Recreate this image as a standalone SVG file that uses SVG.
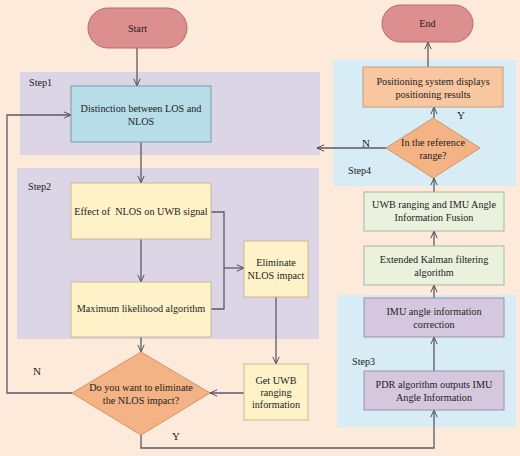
<svg xmlns="http://www.w3.org/2000/svg" width="520" height="456" viewBox="0 0 520 456">
<defs>
<marker id="arr" viewBox="0 0 10 10" refX="10" refY="5" markerWidth="8" markerHeight="8" orient="auto" markerUnits="userSpaceOnUse">
<path d="M1,1 L10,5 L1,9" fill="none" stroke="#4a4a5a" stroke-width="1.2"/>
</marker>
<style>
text{font-family:"Liberation Serif","Times New Roman",serif;font-size:10.2px;fill:#222;text-anchor:middle}
.lbl{text-anchor:start}
.panelP{fill:#dcd5e6}
.panelB{fill:#d7ecf4}
.term{fill:#dd8f8f;stroke:#b66a6a;stroke-width:1}
.blue{fill:#b6dde8;stroke:#8aa6b2;stroke-width:1.2}
.yel{fill:#fff2c9;stroke:#c9b992;stroke-width:1}
.dia{fill:#f4b384;stroke:#d39367;stroke-width:1}
.org{fill:#f8c7a0;stroke:#c79c80;stroke-width:1}
.grn{fill:#eaf1dd;stroke:#a9b69e;stroke-width:1}
.pur{fill:#d5c8de;stroke:#9c8fae;stroke-width:1}
.c{fill:none;stroke:#5a5a68;stroke-width:1.3}
</style>
</defs>
<rect width="520" height="456" fill="#fdeadb"/>
<g id="panels">
<rect class="panelP" x="20" y="72" width="300" height="83"/>
<rect class="panelP" x="17" y="168" width="302" height="171"/>
<rect class="panelB" x="333" y="60" width="183" height="126"/>
<rect class="panelB" x="337" y="295" width="179" height="132"/>
<text class="lbl" x="29" y="86">Step1</text>
<text class="lbl" x="28" y="190">Step2</text>
<text class="lbl" x="348" y="174">Step4</text>
<text class="lbl" x="352" y="365">Step3</text>
</g>
<g id="connectors">
<path class="c" d="M137,48 V86" marker-end="url(#arr)"/>
<path class="c" d="M141,142 V183" marker-end="url(#arr)"/>
<path class="c" d="M141,239 V282" marker-end="url(#arr)"/>
<path class="c" d="M211,212 H224 V309 H211"/>
<path class="c" d="M224,268 H244" marker-end="url(#arr)"/>
<path class="c" d="M276,297 V364" marker-end="url(#arr)"/>
<path class="c" d="M244,393 H210" marker-end="url(#arr)"/>
<path class="c" d="M141,337 V352" marker-end="url(#arr)"/>
<path class="c" d="M72,393 H7 V115 H71" marker-end="url(#arr)"/>
<path class="c" d="M141,435 V448 H434 V410" marker-end="url(#arr)"/>
<path class="c" d="M434,371 V337" marker-end="url(#arr)"/>
<path class="c" d="M434,298 V285" marker-end="url(#arr)"/>
<path class="c" d="M434,246 V231" marker-end="url(#arr)"/>
<path class="c" d="M434,192 V178" marker-end="url(#arr)"/>
<path class="c" d="M434,118 V107" marker-end="url(#arr)"/>
<path class="c" d="M428,67 V42" marker-end="url(#arr)"/>
<path class="c" d="M386,148 H317" marker-end="url(#arr)"/>
<text x="37" y="375" style="font-size:11px">N</text>
<text x="176" y="440" style="font-size:11px">Y</text>
<text x="366" y="147" style="font-size:11px">N</text>
<text x="461" y="119" style="font-size:11px">Y</text>
</g>
<g id="start">
<rect class="term" x="88" y="8" width="99" height="40" rx="20"/>
<text x="137.5" y="32">Start</text>
</g>
<g id="end">
<rect class="term" x="382" y="5" width="91" height="37" rx="18.5"/>
<text x="427.5" y="27">End</text>
</g>
<g id="distinction">
<rect class="blue" x="71" y="86" width="140" height="56"/>
<text x="141" y="112">Distinction between LOS and</text>
<text x="141" y="125">NLOS</text>
</g>
<g id="effect">
<rect class="yel" x="71" y="183" width="140" height="56"/>
<text x="141" y="215" style="white-space:pre">Effect of  NLOS on UWB signal</text>
</g>
<g id="maxlike">
<rect class="yel" x="71" y="282" width="140" height="55"/>
<text x="141" y="312">Maximum likelihood algorithm</text>
</g>
<g id="eliminate">
<rect class="yel" x="244" y="241" width="64" height="56"/>
<text x="276" y="266">Eliminate</text>
<text x="276" y="279">NLOS impact</text>
</g>
<g id="getuwb">
<rect class="yel" x="244" y="364" width="64" height="56"/>
<text x="276" y="384">Get UWB</text>
<text x="276" y="396">ranging</text>
<text x="276" y="408">information</text>
</g>
<g id="decision1">
<polygon class="dia" points="141,352 210,393 141,435 72,393"/>
<text x="141" y="391">Do you want to eliminate</text>
<text x="141" y="404">the NLOS impact?</text>
</g>
<g id="positioning">
<rect class="org" x="363" y="67" width="140" height="40"/>
<text x="433" y="85">Positioning system displays</text>
<text x="433" y="98">positioning results</text>
</g>
<g id="decision2">
<polygon class="dia" points="433,118 480,148 433,178 386,148"/>
<text x="433" y="146">In the reference</text>
<text x="433" y="159">range?</text>
</g>
<g id="fusion">
<rect class="grn" x="364" y="192" width="140" height="39"/>
<text x="434" y="208">UWB ranging and IMU Angle</text>
<text x="434" y="221">Information Fusion</text>
</g>
<g id="ekf">
<rect class="grn" x="364" y="246" width="140" height="39"/>
<text x="434" y="263">Extended Kalman filtering</text>
<text x="434" y="276">algorithm</text>
</g>
<g id="imu">
<rect class="pur" x="364" y="298" width="140" height="39"/>
<text x="434" y="315">IMU angle information</text>
<text x="434" y="328">correction</text>
</g>
<g id="pdr">
<rect class="pur" x="364" y="371" width="140" height="39"/>
<text x="434" y="388">PDR algorithm outputs IMU</text>
<text x="434" y="401">Angle Information</text>
</g>
</svg>
